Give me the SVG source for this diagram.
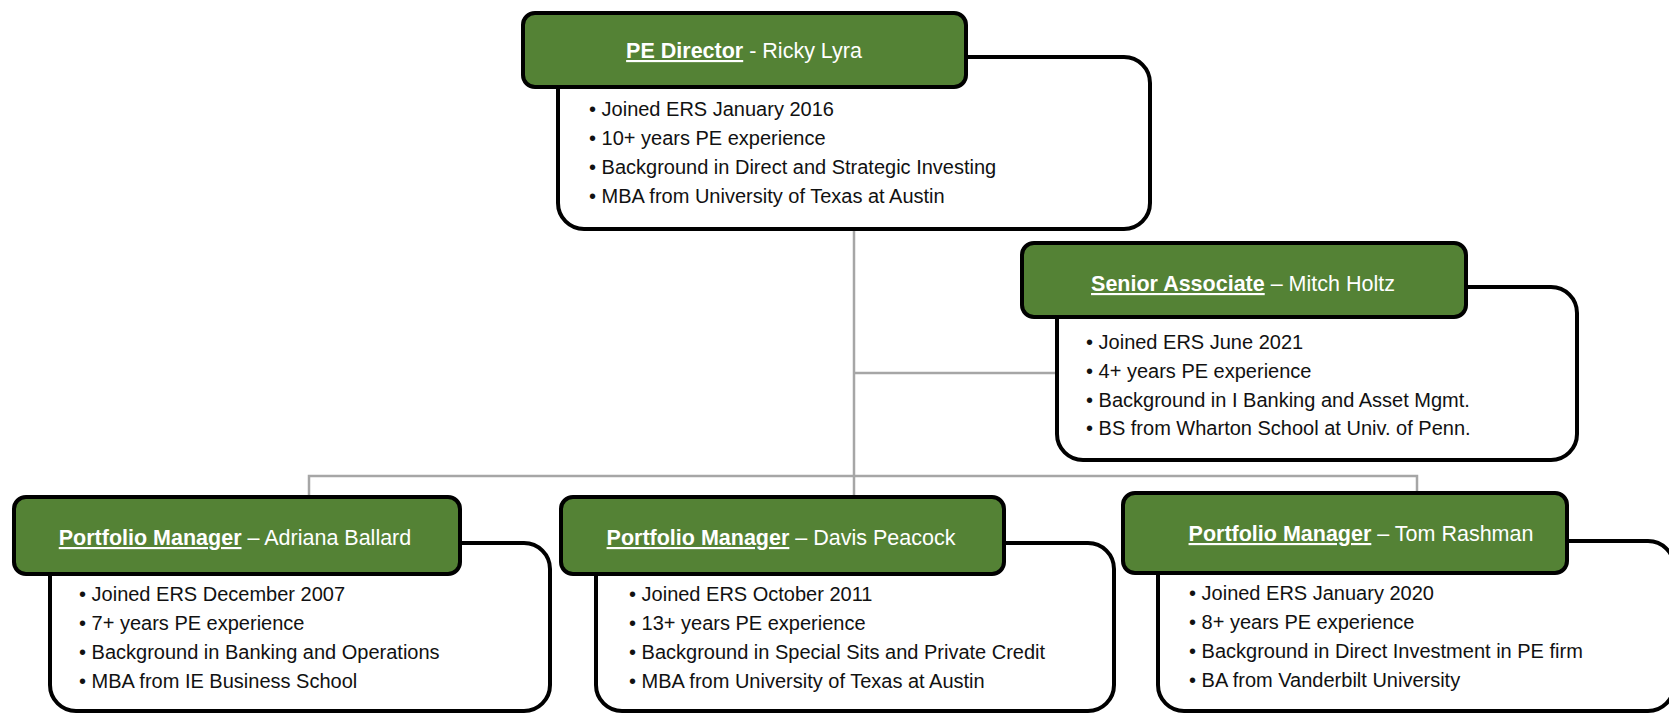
<svg xmlns="http://www.w3.org/2000/svg" width="1669" height="714" viewBox="0 0 1669 714">
<style>
.body{fill:#fff;stroke:#000;stroke-width:4}
.head{fill:#548235;stroke:#000;stroke-width:4}
.title{font-family:"Liberation Sans",Arial,sans-serif;font-size:21.5px;fill:#fff;text-anchor:middle}
.title .role{font-weight:bold;text-decoration:underline}
.txt{font-family:"Liberation Sans",Arial,sans-serif;font-size:20px;fill:#111}
.conn{fill:none;stroke:#a6a6a6;stroke-width:2.5}
</style>
<rect width="1669" height="714" fill="#fff"/>
<g id="connectors">
<line class="conn" x1="854" y1="229" x2="854" y2="497"/>
<line class="conn" x1="854" y1="373" x2="1057" y2="373"/>
<polyline class="conn" points="309,497 309,476 1417,476 1417,493"/>
</g>
<g id="pe-director">
<rect class="body" x="558" y="57" width="592" height="172" rx="26"/>
<rect class="head" x="523" y="13" width="443" height="74" rx="12"/>
<text class="title" x="744" y="58"><tspan class="role">PE Director</tspan> - Ricky Lyra</text>
<text class="txt" x="589" y="116">• Joined ERS January 2016</text>
<text class="txt" x="589" y="145">• 10+ years PE experience</text>
<text class="txt" x="589" y="174">• Background in Direct and Strategic Investing</text>
<text class="txt" x="589" y="203">• MBA from University of Texas at Austin</text>
</g>
<g id="senior-associate">
<rect class="body" x="1057" y="287" width="520" height="173" rx="26"/>
<rect class="head" x="1022" y="243" width="444" height="74" rx="12"/>
<text class="title" x="1243" y="291"><tspan class="role">Senior Associate</tspan> – Mitch Holtz</text>
<text class="txt" x="1086" y="349">• Joined ERS June 2021</text>
<text class="txt" x="1086" y="378">• 4+ years PE experience</text>
<text class="txt" x="1086" y="407">• Background in I Banking and Asset Mgmt.</text>
<text class="txt" x="1086" y="435">• BS from Wharton School at Univ. of Penn.</text>
</g>
<g id="pm-ballard">
<rect class="body" x="50" y="543" width="500" height="168" rx="26"/>
<rect class="head" x="14" y="497" width="446" height="77" rx="12"/>
<text class="title" x="235" y="545"><tspan class="role">Portfolio Manager</tspan> – Adriana Ballard</text>
<text class="txt" x="79" y="601">• Joined ERS December 2007</text>
<text class="txt" x="79" y="630">• 7+ years PE experience</text>
<text class="txt" x="79" y="659">• Background in Banking and Operations</text>
<text class="txt" x="79" y="688">• MBA from IE Business School</text>
</g>
<g id="pm-peacock">
<rect class="body" x="596" y="543" width="518" height="168" rx="26"/>
<rect class="head" x="561" y="497" width="443" height="77" rx="12"/>
<text class="title" x="781" y="545"><tspan class="role">Portfolio Manager</tspan> – Davis Peacock</text>
<text class="txt" x="629" y="601">• Joined ERS October 2011</text>
<text class="txt" x="629" y="630">• 13+ years PE experience</text>
<text class="txt" x="629" y="659">• Background in Special Sits and Private Credit</text>
<text class="txt" x="629" y="688">• MBA from University of Texas at Austin</text>
</g>
<g id="pm-rashman">
<rect class="body" x="1158" y="541" width="516" height="170" rx="26"/>
<rect class="head" x="1123" y="493" width="444" height="80" rx="12"/>
<text class="title" x="1361" y="541"><tspan class="role">Portfolio Manager</tspan> – Tom Rashman</text>
<text class="txt" x="1189" y="600">• Joined ERS January 2020</text>
<text class="txt" x="1189" y="629">• 8+ years PE experience</text>
<text class="txt" x="1189" y="658">• Background in Direct Investment in PE firm</text>
<text class="txt" x="1189" y="687">• BA from Vanderbilt University</text>
</g>
</svg>
